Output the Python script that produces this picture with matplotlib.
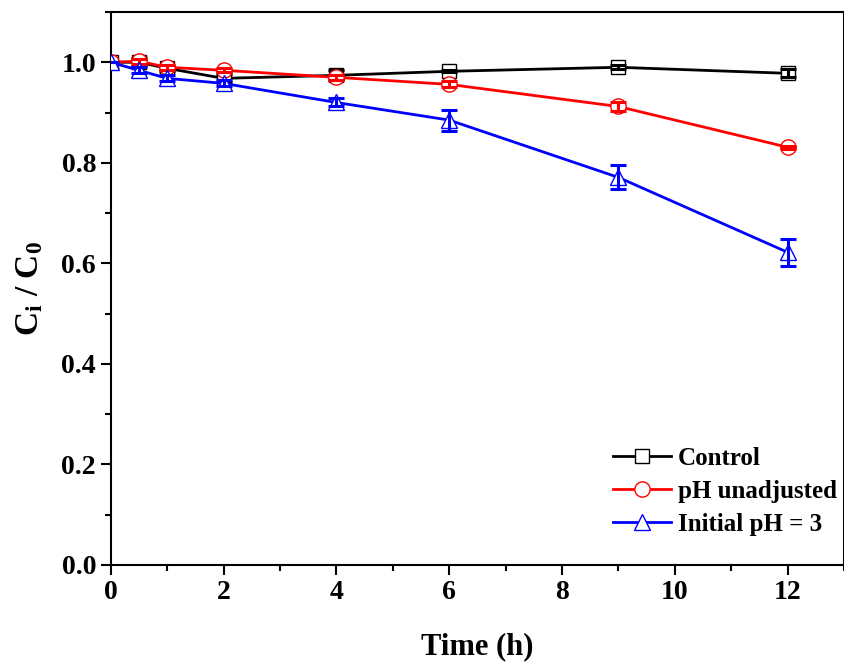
import numpy as np
import matplotlib.pyplot as plt
from matplotlib.ticker import MultipleLocator

plt.rcParams['font.family'] = 'Liberation Serif'
plt.rcParams['font.weight'] = 'bold'
plt.rcParams['mathtext.fontset'] = 'custom'
plt.rcParams['mathtext.rm'] = 'Liberation Serif:bold'
plt.rcParams['mathtext.bf'] = 'Liberation Serif:bold'
plt.rcParams['mathtext.it'] = 'Liberation Serif:bold'

time_h = [0, 0.5, 1, 2, 4, 6, 9, 12]

control = [1.000, 1.000, 0.988, 0.968, 0.974, 0.982, 0.990, 0.978]
control_err = [0.0, 0.008, 0.005, 0.008, 0.010, 0.002, 0.004, 0.008]

ph_unadj = [1.000, 1.002, 0.990, 0.984, 0.970, 0.956, 0.912, 0.831]
ph_unadj_err = [0.0, 0.005, 0.005, 0.004, 0.005, 0.006, 0.008, 0.003]

ph3 = [1.000, 0.984, 0.968, 0.958, 0.920, 0.885, 0.771, 0.622]
ph3_err = [0.0, 0.006, 0.006, 0.006, 0.008, 0.021, 0.024, 0.027]

series = [
    (control, control_err, "black", "s", 10, "Control"),
    (ph_unadj, ph_unadj_err, "red", "o", 11, "pH unadjusted"),
    (ph3, ph3_err, "blue", "^", 12, "Initial pH = 3"),
]

fig = plt.figure(figsize=(8.45, 6.66), dpi=100)
ax = fig.add_axes([0.131, 0.1517, 0.8678, 0.8303])

handles = []
for i, (vals, err, col, mk, ms, lab) in enumerate(series):
    ln, = ax.plot(time_h, vals, color=col, lw=2, marker=mk, ms=ms,
                  mfc="white", mec=col, mew=1, label=lab, zorder=2 + i)
    ax.errorbar(time_h, vals, yerr=err, fmt="none", ecolor=col,
                elinewidth=2.2, capsize=5.5, capthick=2.2, zorder=2.5 + i)
    handles.append(ln)

ax.set_xlim(0, 13)
ax.set_ylim(0, 1.1)
ax.set_xticks(range(0, 13, 2))
ax.xaxis.set_minor_locator(MultipleLocator(1))
ax.set_yticks(np.arange(0, 1.01, 0.2))
ax.yaxis.set_minor_locator(MultipleLocator(0.1))
ax.tick_params(which="both", direction="out", width=1.5, labelsize=20)
ax.tick_params(which="major", length=7)
ax.tick_params(which="minor", length=4)
ax.yaxis.set_major_formatter(plt.FormatStrFormatter("%.1f"))
for s in ax.spines.values():
    s.set_linewidth(1.5)

ax.set_xlabel("Time (h)", fontsize=22, fontweight="bold", labelpad=20)
ax.set_ylabel(r"$\mathbf{C_i}$ / $\mathbf{C_0}$", fontsize=24, fontweight="bold", labelpad=12)

ax.legend(handles=handles, loc="lower right", frameon=False, fontsize=18,
          handlelength=2.3, handletextpad=0.3, labelspacing=0.4,
          borderaxespad=0.4, bbox_to_anchor=(1.018, 0.017))

fig.savefig("out.png", dpi=100)
